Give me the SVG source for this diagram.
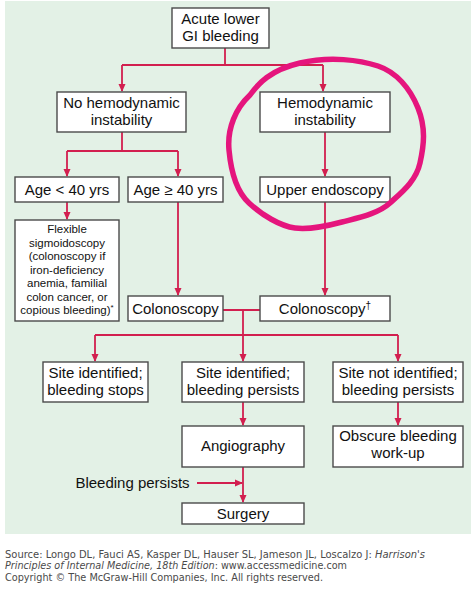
<svg xmlns="http://www.w3.org/2000/svg" width="474" height="590" viewBox="0 0 474 590">
<defs>
<style>
.box{fill:#fff;stroke:#4a4a4a;stroke-width:1.4}
.t{font-family:"Liberation Sans",Arial,sans-serif;font-size:15px;fill:#111;text-anchor:middle}
.s{font-family:"Liberation Sans",Arial,sans-serif;font-size:11.5px;fill:#111;text-anchor:middle}
.c{fill:none;stroke:#d21f4f;stroke-width:1.8}
.f{font-family:"DejaVu Sans",Verdana,sans-serif;font-size:10px;fill:#4a4a4a}
</style>
<marker id="ah" markerWidth="8" markerHeight="8" refX="7" refY="4" orient="auto" markerUnits="userSpaceOnUse">
<path d="M0,0.5 L8,4 L0,7.5 Z" fill="#d21f4f"/>
</marker>
</defs>
<rect x="0" y="0" width="474" height="590" fill="#fff"/>
<rect x="5" y="1" width="466" height="533" fill="#e3f1e6"/>

<g id="connectors">
<path class="c" d="M225,48 V65 M122,65 H323"/>
<path class="c" d="M122,65 V91" marker-end="url(#ah)"/>
<path class="c" d="M323,65 V91" marker-end="url(#ah)"/>
<path class="c" d="M122,132 V151 M67,151 H178"/>
<path class="c" d="M67,151 V176" marker-end="url(#ah)"/>
<path class="c" d="M178,151 V176" marker-end="url(#ah)"/>
<path class="c" d="M325,132 V176" marker-end="url(#ah)"/>
<path class="c" d="M67,202 V219" marker-end="url(#ah)"/>
<path class="c" d="M178,202 V295" marker-end="url(#ah)"/>
<path class="c" d="M325,202 V295" marker-end="url(#ah)"/>
<path class="c" d="M223,310 H260 M243,310 V335 M95,335 H398"/>
<path class="c" d="M95,335 V361" marker-end="url(#ah)"/>
<path class="c" d="M243,335 V361" marker-end="url(#ah)"/>
<path class="c" d="M398,335 V361" marker-end="url(#ah)"/>
<path class="c" d="M243,402 V425" marker-end="url(#ah)"/>
<path class="c" d="M398,402 V425" marker-end="url(#ah)"/>
<path class="c" d="M243,467 V502" marker-end="url(#ah)"/>
<path class="c" d="M197,483 H242" marker-end="url(#ah)"/>
</g>

<g id="n-acute"><rect class="box" x="172" y="8" width="97" height="40"/><text class="t" x="220.5" y="24">Acute lower</text><text class="t" x="220.5" y="41">GI bleeding</text></g>
<g id="n-nohemo"><rect class="box" x="57" y="92" width="129" height="40"/><text class="t" x="121.5" y="108">No hemodynamic</text><text class="t" x="121.5" y="125">instability</text></g>
<g id="n-hemo"><rect class="box" x="260" y="92" width="130" height="40"/><text class="t" x="325" y="108">Hemodynamic</text><text class="t" x="325" y="125">instability</text></g>
<g id="n-agelt"><rect class="box" x="15" y="177" width="104" height="25"/><text class="t" x="67" y="195">Age &lt; 40 yrs</text></g>
<g id="n-agege"><rect class="box" x="128" y="177" width="95" height="25"/><text class="t" x="175.5" y="195">Age  ≥ 40 yrs</text></g>
<g id="n-upper"><rect class="box" x="260" y="177" width="130" height="25"/><text class="t" x="325" y="195">Upper endoscopy</text></g>
<g id="n-flex"><rect class="box" x="15" y="220" width="104" height="101"/>
<text class="s" x="67" y="233">Flexible</text>
<text class="s" x="67" y="246.5">sigmoidoscopy</text>
<text class="s" x="67" y="260">(colonoscopy if</text>
<text class="s" x="67" y="273.5">iron-deficiency</text>
<text class="s" x="67" y="287">anemia, familial</text>
<text class="s" x="67" y="300.5">colon cancer, or</text>
<text class="s" x="67" y="314">copious bleeding)<tspan font-size="8" dy="-4">*</tspan></text></g>
<g id="n-colo1"><rect class="box" x="128" y="296" width="95" height="25"/><text class="t" x="175.5" y="314">Colonoscopy</text></g>
<g id="n-colo2"><rect class="box" x="260" y="296" width="130" height="25"/><text class="t" x="325" y="314">Colonoscopy<tspan font-size="10" dy="-5">†</tspan></text></g>
<g id="n-stops"><rect class="box" x="43" y="362" width="105" height="40"/><text class="t" x="95.5" y="378">Site identified;</text><text class="t" x="95.5" y="395">bleeding stops</text></g>
<g id="n-persists"><rect class="box" x="182" y="362" width="122" height="40"/><text class="t" x="243" y="378">Site identified;</text><text class="t" x="243" y="395">bleeding persists</text></g>
<g id="n-notid"><rect class="box" x="333" y="362" width="130" height="40"/><text class="t" x="398" y="378">Site not identified;</text><text class="t" x="398" y="395">bleeding persists</text></g>
<g id="n-angio"><rect class="box" x="182" y="426" width="122" height="41"/><text class="t" x="243" y="451">Angiography</text></g>
<g id="n-obscure"><rect class="box" x="333" y="426" width="130" height="41"/><text class="t" x="398" y="441">Obscure bleeding</text><text class="t" x="398" y="458">work-up</text></g>
<g id="n-surgery"><rect class="box" x="182" y="503" width="122" height="21"/><text class="t" x="243" y="519">Surgery</text></g>
<g id="l-bp"><text class="t" x="132.5" y="488">Bleeding persists</text></g>

<path id="annotation" d="M250,95 C258,84 270,70 300,63 S360,60 378,66 S410,88 418,108 S424,145 420,163 S402,192 390,203 S357,218 342,222 S310,230 295,228 S262,215 249,203 S231,172 229,150 S236,108 250,95 Z" fill="none" stroke="#e5157d" stroke-width="5.5" stroke-linejoin="round" stroke-linecap="round"/>

<g id="footer">
<text class="f" x="5" y="558" textLength="420" lengthAdjust="spacingAndGlyphs">Source: Longo DL, Fauci AS, Kasper DL, Hauser SL, Jameson JL, Loscalzo J: <tspan font-style="italic">Harrison's</tspan></text>
<text class="f" x="5" y="569" textLength="342" lengthAdjust="spacingAndGlyphs"><tspan font-style="italic">Principles of Internal Medicine, 18th Edition</tspan>: www.accessmedicine.com</text>
<text class="f" x="5" y="581" textLength="318" lengthAdjust="spacingAndGlyphs">Copyright © The McGraw-Hill Companies, Inc. All rights reserved.</text>
</g>
</svg>
